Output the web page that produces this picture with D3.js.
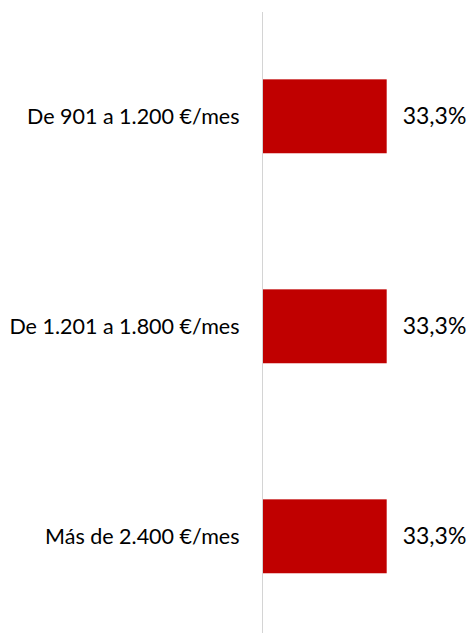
<!DOCTYPE html>
<html>
<head>
<meta charset="utf-8">
<script src="https://cdn.jsdelivr.net/npm/d3@7"></script>
<style>
  html, body { margin: 0; padding: 0; background: #fff; }
  svg { display: block; }
  text { font-family: Lato, "Open Sans", sans-serif; fill: #000; }
</style>
</head>
<body>
<div id="chart"></div>
<script>
const categories = ["De 901 a 1.200 €/mes", "De 1.201 a 1.800 €/mes", "Más de 2.400 €/mes"];
const values = [0.333, 0.333, 0.333];
const valueLabels = ["33,3%", "33,3%", "33,3%"];

const width = 472, height = 633;
const axisX = 262.5;

const svg = d3.select("#chart").append("svg")
  .attr("width", width)
  .attr("height", height);

const y = d3.scaleBand()
  .domain(categories)
  .range([11.3, 641.3])
  .paddingInner(0.648)
  .paddingOuter(0.324);

const x = d3.scaleLinear()
  .domain([0, 0.35])
  .range([263, 393]);

// bars
svg.selectAll("rect.bar")
  .data(categories)
  .enter().append("rect")
  .attr("class", "bar")
  .attr("x", x(0))
  .attr("y", d => y(d))
  .attr("width", (d, i) => x(values[i]) - x(0))
  .attr("height", y.bandwidth())
  .attr("fill", "#c00000");

// vertical axis line
svg.append("line")
  .attr("x1", axisX).attr("x2", axisX)
  .attr("y1", 12).attr("y2", height)
  .attr("stroke", "#d4d4d4")
  .attr("stroke-width", 1);

// category labels
svg.selectAll("text.cat")
  .data(categories)
  .enter().append("text")
  .attr("class", "cat")
  .attr("x", axisX - 23)
  .attr("y", d => y(d) + y.bandwidth() / 2)
  .attr("dy", "0.35em")
  .attr("text-anchor", "end")
  .style("font-size", "21.5px")
  .text(d => d);

// value labels
svg.selectAll("text.val")
  .data(categories)
  .enter().append("text")
  .attr("class", "val")
  .attr("x", (d, i) => x(values[i]) + 16)
  .attr("y", d => y(d) + y.bandwidth() / 2)
  .attr("dy", "0.35em")
  .style("font-size", "23px")
  .text((d, i) => valueLabels[i]);
</script>
</body>
</html>
